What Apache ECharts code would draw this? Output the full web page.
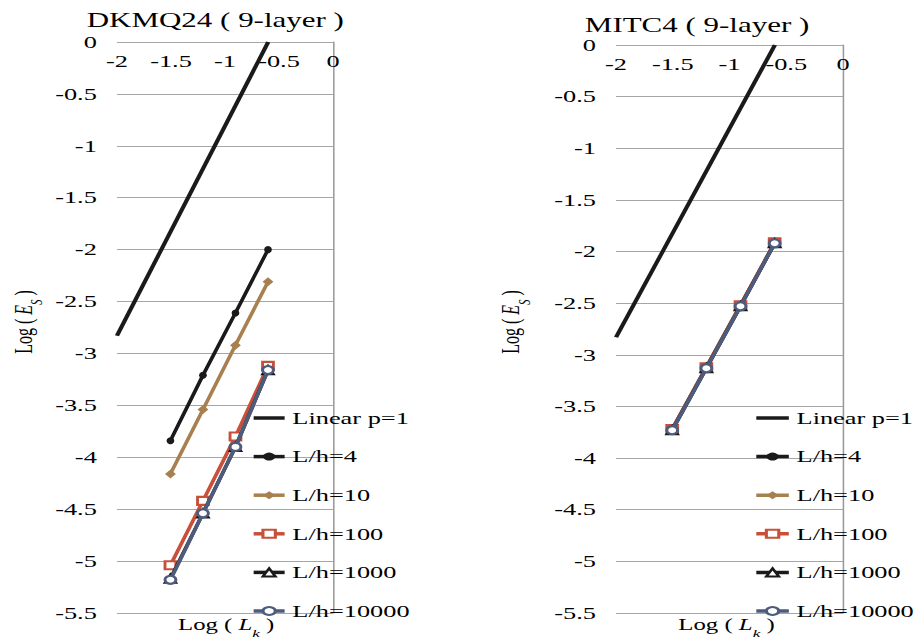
<!DOCTYPE html>
<html><head><meta charset="utf-8">
<script src="https://cdn.jsdelivr.net/npm/echarts@6/dist/echarts.min.js"></script>
<style>
html,body{margin:0;padding:0;background:#fff;overflow:hidden;}
#wrap{width:917px;height:640px;overflow:hidden;position:relative;}
#chart{width:592px;height:640px;transform:scaleX(1.549);transform-origin:0 0;}
</style></head><body><div id="wrap"><div id="chart"></div></div>
<script>
// ---- data ----
const panelTitles = ['DKMQ24 ( 9-layer )', 'MITC4 ( 9-layer )'];
const seriesNames = ['Linear p=1', 'L/h=4', 'L/h=10', 'L/h=100', 'L/h=1000', 'L/h=10000'];
const logLk = [-1.505, -1.204, -0.903, -0.602];
const linearX = [-2.0, -0.6];
const linearY = [-2.83, 0.0];
// DKMQ24 panel, Log(Es)
const dkmq_4 = [-3.84, -3.21, -2.61, -2.00];
const dkmq_10 = [-4.16, -3.54, -2.92, -2.31];
const dkmq_100 = [-5.04, -4.42, -3.80, -3.12];
const dkmq_1000 = [-5.17, -4.54, -3.90, -3.16];
const dkmq_10000 = [-5.18, -4.54, -3.90, -3.16];
// MITC4 panel, Log(Es)
const mitc_4 = [-3.72, -3.12, -2.52, -1.92];
const mitc_10 = [-3.72, -3.12, -2.52, -1.92];
const mitc_100 = [-3.72, -3.12, -2.52, -1.91];
const mitc_1000 = [-3.73, -3.13, -2.53, -1.92];
const mitc_10000 = [-3.73, -3.13, -2.53, -1.92];
const xMin = -2, xMax = 0, xStep = 0.5;
const yMin = -5.5, yMax = 0, yStep = 0.5;

// ---- build ----
const FONT = 'Liberation Serif';
const pairs = (xs, ys) => xs.map((x, i) => [x, ys[i]]);
const styles = [
  {color: '#1a1a1a', symbol: 'none', width: 2.8},
  {color: '#1a1a1a', symbol: 'circle', size: [5, 7], width: 2.5},
  {color: '#A8804F', symbol: 'diamond', size: [7, 9], width: 2.5},
  {color: '#C8503A', symbol: 'emptyRect', size: [7, 8], width: 2.5},
  {color: '#1a1a1a', symbol: 'emptyTriangle', size: [7, 8], width: 2.5},
  {color: '#4D5B7C', symbol: 'emptyCircle', size: [7, 8], width: 2.5}
];
const panels = [
  [dkmq_4, dkmq_10, dkmq_100, dkmq_1000, dkmq_10000],
  [mitc_4, mitc_10, mitc_100, mitc_1000, mitc_10000]
];
const series = [];
panels.forEach((p, gi) => {
  seriesNames.forEach((name, si) => {
    const st = styles[si];
    const data = si === 0 ? pairs(linearX, linearY) : pairs(logLk, p[si - 1]);
    series.push({
      name, type: 'line', xAxisIndex: gi, yAxisIndex: gi, data,
      color: st.color,
      symbol: st.symbol, symbolSize: st.size || 0, showSymbol: st.symbol !== 'none',
      lineStyle: {color: st.color, width: st.width},
      itemStyle: {color: st.color, borderWidth: 1.2},
      emphasis: {disabled: true}, z: 2 + si
    });
  });
});
const tickStyle = {fontFamily: FONT, fontSize: 17, color: '#000'};
const mkX = (gi) => ({
  gridIndex: gi, type: 'value', min: xMin, max: xMax, interval: xStep, position: 'top',
  axisLine: {show: false}, axisTick: {show: false}, splitLine: {show: false},
  axisLabel: Object.assign({inside: true, margin: 11}, tickStyle)
});
const mkY = (gi) => ({
  gridIndex: gi, type: 'value', min: yMin, max: yMax, interval: yStep,
  axisLine: {show: true, lineStyle: {color: '#9a9a9a', width: 1}}, axisTick: {show: false},
  splitLine: {show: true, lineStyle: {color: '#a6a6a6', width: 1}},
  axisLabel: Object.assign({margin: 13}, tickStyle)
});
const legendData = seriesNames.map((n, i) => i === 0 ? {name: n, itemStyle: {opacity: 0}} : {name: n});
const legendCommon = {
  orient: 'vertical', top: 409, padding: 0, itemHeight: 10, itemGap: 20.6,
  data: legendData, selectedMode: false,
  lineStyle: {width: 3.5},
  textStyle: {fontFamily: FONT, fontSize: 17, color: '#000', lineHeight: 18}
};
const rich = {
  n: {fontFamily: FONT, fontSize: 16, color: '#000', lineHeight: 22, verticalAlign: 'top'},
  i: {fontFamily: FONT, fontSize: 16, fontStyle: 'italic', color: '#000', lineHeight: 22, verticalAlign: 'top'},
  s: {fontFamily: FONT, fontSize: 11, fontStyle: 'italic', color: '#000', lineHeight: 12, verticalAlign: 'bottom'}
};
const txt = (x, y, text, opts) => Object.assign({
  type: 'text', x, y, silent: true,
  style: Object.assign({text, textAlign: 'center', textVerticalAlign: 'middle', fill: '#000'}, opts.style || {})
}, opts.extra || {});
const graphic = [
  txt(139, 20, panelTitles[0], {style: {font: '20px "Liberation Serif"'}}),
  txt(450, 25, panelTitles[1], {style: {font: '20px "Liberation Serif"'}}),
  txt(146, 628, '{n|Log ( }{i|L}{s|k}{n| )}', {style: {rich}}),
  txt(469, 628, '{n|Log ( }{i|L}{s|k}{n| )}', {style: {rich}}),
  txt(18, 322, '{n|Log ( }{i|E}{s|S}{n| )}', {style: {rich}, extra: {rotation: Math.PI / 2}}),
  txt(333, 322, '{n|Log ( }{i|E}{s|S}{n| )}', {style: {rich}, extra: {rotation: Math.PI / 2}})
];
const chart = echarts.init(document.getElementById('chart'), null, {renderer: 'svg'});
chart.setOption({
  animation: false,
  backgroundColor: '#fff',
  grid: [
    {left: 75.5, top: 42, width: 139.5, height: 571},
    {left: 397.7, top: 45, width: 146.5, height: 568}
  ],
  xAxis: [mkX(0), mkX(1)],
  yAxis: [mkY(0), mkY(1)],
  legend: [Object.assign({left: 162, itemWidth: 20}, legendCommon), Object.assign({left: 486.5, itemWidth: 21}, legendCommon)],
  graphic,
  series
});
</script></body></html>
